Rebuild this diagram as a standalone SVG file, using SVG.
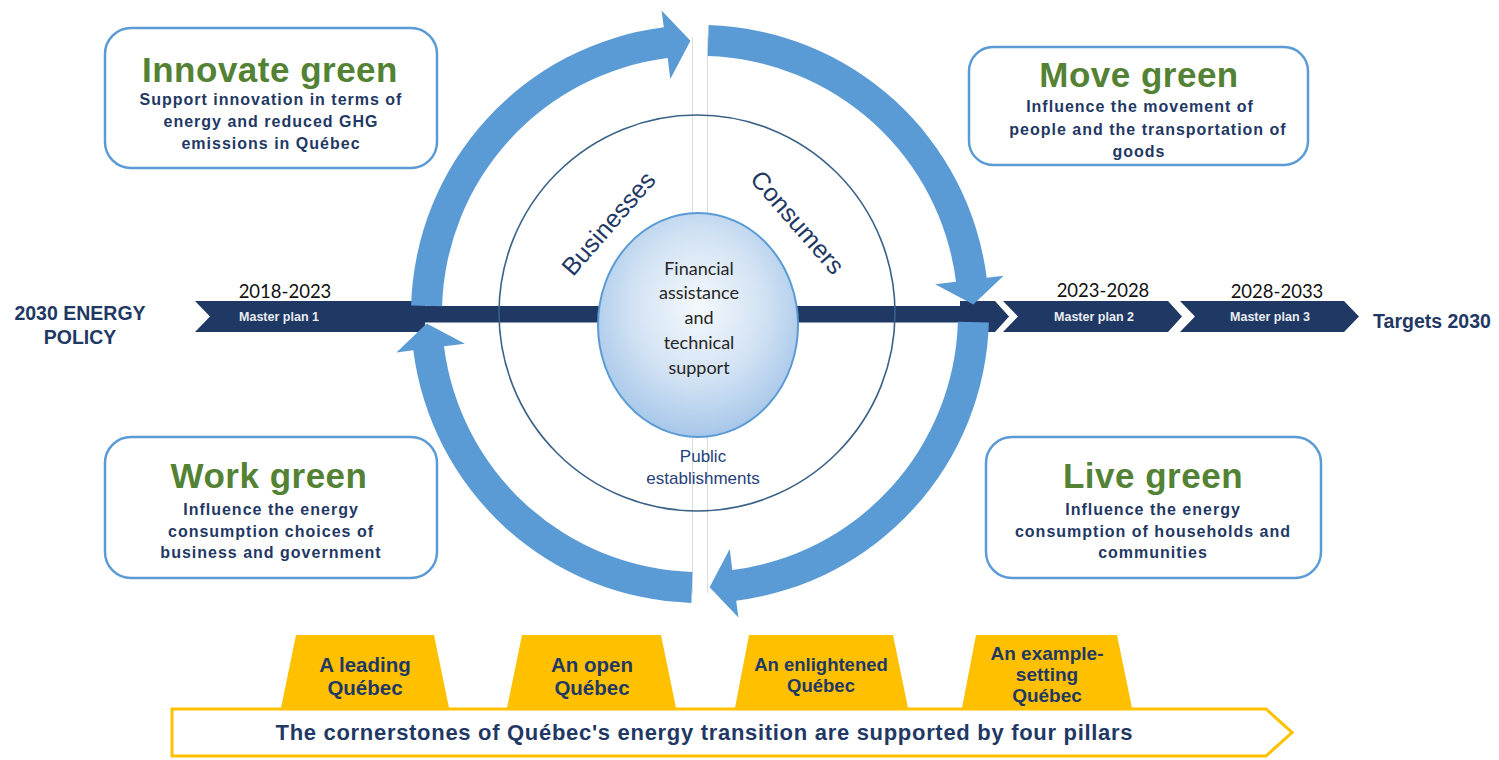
<svg xmlns="http://www.w3.org/2000/svg" width="1499" height="760" viewBox="0 0 1499 760">
<defs>
<radialGradient id="eg" cx="50%" cy="42%" r="58%">
<stop offset="0" stop-color="#f5f9fd"/>
<stop offset="0.55" stop-color="#d3e3f4"/>
<stop offset="1" stop-color="#a7c7e9"/>
</radialGradient>
<style>
.box{fill:#fff;stroke:#5b9bd5;stroke-width:2.5}
.title{font-family:"Liberation Sans",Arial,sans-serif;font-weight:bold;font-size:35px;fill:#548235;text-anchor:middle;letter-spacing:0.5px}
.sub{font-family:"Liberation Sans",Arial,sans-serif;font-weight:bold;font-size:16px;fill:#1f3864;text-anchor:middle;letter-spacing:1px}
.arc{fill:#5b9bd5}
.navy{fill:#1f3864}
.mp{font-family:"Liberation Sans",Arial,sans-serif;font-weight:bold;font-size:12.5px;fill:#e9ecf2;text-anchor:middle}
.yr{font-family:Lato,"Liberation Sans",sans-serif;font-size:18.5px;fill:#111;text-anchor:middle}
.lbl{font-family:"Liberation Sans",Arial,sans-serif;font-weight:bold;font-size:19.5px;fill:#1f3864;text-anchor:middle}
.ell{font-family:Lato,"Liberation Sans",sans-serif;font-size:18px;fill:#262626;text-anchor:middle}
.seg{font-family:"Liberation Sans",Arial,sans-serif;font-size:25px;fill:#1f3864;text-anchor:middle}
.pub{font-family:"Liberation Sans",Arial,sans-serif;font-size:17px;fill:#26407a;text-anchor:middle}
.pillar{fill:#ffc000}
.pt{font-family:"Liberation Sans",Arial,sans-serif;font-weight:bold;fill:#1f3864;text-anchor:middle}
.gap{stroke:#dcdcdc;stroke-width:1;fill:none}
</style>
</defs>
<rect width="1499" height="760" fill="#fff"/>

<g id="timeline">
<rect class="navy" x="420" y="306" width="560" height="16.5"/>
<polygon class="navy" points="195,301 425,301 425,332 195,332 210,316.5"/>
<polygon class="navy" points="960,301 995,301 1009,316.5 995,332 960,332"/>
<polygon class="navy" points="1003,301 1168,301 1182,316.5 1168,332 1003,332 1018,316.5"/>
<polygon class="navy" points="1180,301 1344,301 1359,316.5 1344,332 1180,332 1195,316.5"/>
<text class="mp" x="279" y="321">Master plan 1</text>
<text class="mp" x="1094" y="321">Master plan 2</text>
<text class="mp" x="1270" y="321">Master plan 3</text>
<text class="yr" x="285" y="298">2018-2023</text>
<text class="yr" x="1103" y="297">2023-2028</text>
<text class="yr" x="1277" y="298">2028-2033</text>
<text class="lbl" x="80" y="320">2030 ENERGY</text>
<text class="lbl" x="80" y="344">POLICY</text>
<text class="lbl" x="1432" y="328">Targets 2030</text>
</g>

<g id="center">
<line class="gap" x1="692.5" y1="37" x2="692.5" y2="305"/>
<line class="gap" x1="707.5" y1="37" x2="707.5" y2="305"/>
<line class="gap" x1="692.5" y1="323" x2="692.5" y2="593"/>
<line class="gap" x1="707.5" y1="323" x2="707.5" y2="593"/>
<circle cx="697" cy="313" r="198" fill="none" stroke="#3a6186" stroke-width="1.6"/>
<ellipse cx="698" cy="325" rx="100" ry="112" fill="url(#eg)" stroke="#5b9bd5" stroke-width="2"/>
<text class="ell" x="699" y="275">Financial</text>
<text class="ell" x="699" y="299">assistance</text>
<text class="ell" x="699" y="324">and</text>
<text class="ell" x="699" y="349">technical</text>
<text class="ell" x="699" y="374">support</text>
<text class="seg" transform="translate(615,229) rotate(-49)">Businesses</text>
<text class="seg" transform="translate(791,228) rotate(49)">Consumers</text>
<text class="pub" x="703" y="462">Public</text>
<text class="pub" x="703" y="484">establishments</text>
</g>

<g id="connectors">
<path class="arc" d="M411.1,305.4 A289,289 0 0 1 663.8,27.3 L661.6,10.4 L690.5,40.7 L670.3,78.9 L667.7,58.0 A258,258 0 0 0 442.1,306.3 Z"/>
<path class="arc" d="M708.6,25.1 A289,289 0 0 1 986.7,277.8 L1003.6,275.7 L973.3,304.5 L935.1,284.3 L956.0,281.7 A258,258 0 0 0 707.7,56.1 Z"/>
<path class="arc" d="M988.9,322.6 A289,289 0 0 1 736.2,600.7 L738.4,617.6 L709.6,587.3 L729.7,549.1 L732.3,570.0 A258,258 0 0 0 957.9,321.7 Z"/>
<path class="arc" d="M691.4,602.9 A289,289 0 0 1 413.3,350.2 L396.4,352.4 L426.7,323.6 L464.9,343.7 L444.0,346.3 A258,258 0 0 0 692.4,571.9 Z"/>
</g>

<g id="innovate-green">
<rect class="box" x="105" y="28" width="332" height="140" rx="26"/>
<text class="title" x="270" y="82">Innovate green</text>
<text class="sub" x="271" y="105">Support innovation in terms of</text>
<text class="sub" x="271" y="127">energy and reduced GHG</text>
<text class="sub" x="271" y="149">emissions in Québec</text>
</g>

<g id="move-green">
<rect class="box" x="969" y="47" width="339" height="118" rx="24"/>
<text class="title" x="1139" y="87">Move green</text>
<text class="sub" x="1140" y="112">Influence the movement of</text>
<text class="sub" x="1148" y="135">people and the transportation of</text>
<text class="sub" x="1139" y="157">goods</text>
</g>

<g id="work-green">
<rect class="box" x="105" y="437" width="332" height="141" rx="26"/>
<text class="title" x="269" y="488">Work green</text>
<text class="sub" x="271" y="515">Influence the energy</text>
<text class="sub" x="271" y="537">consumption choices of</text>
<text class="sub" x="271" y="558">business and government</text>
</g>

<g id="live-green">
<rect class="box" x="986" y="437" width="335" height="141" rx="26"/>
<text class="title" x="1153" y="488">Live green</text>
<text class="sub" x="1153" y="515">Influence the energy</text>
<text class="sub" x="1153" y="537">consumption of households and</text>
<text class="sub" x="1153" y="558">communities</text>
</g>

<g id="pillar-1">
<polygon class="pillar" points="296,635 434,635 449,708 281,708"/>
<text class="pt" x="365" y="672" font-size="20.5">A leading</text>
<text class="pt" x="365" y="695" font-size="20.5">Québec</text>
</g>
<g id="pillar-2">
<polygon class="pillar" points="522,635 661,635 676,708 507,708"/>
<text class="pt" x="592" y="672" font-size="20.5">An open</text>
<text class="pt" x="592" y="695" font-size="20.5">Québec</text>
</g>
<g id="pillar-3">
<polygon class="pillar" points="749,635 893,635 908,708 735,708"/>
<text class="pt" x="821" y="671" font-size="18.5">An enlightened</text>
<text class="pt" x="821" y="692" font-size="18.5">Québec</text>
</g>
<g id="pillar-4">
<polygon class="pillar" points="976,635 1117,635 1132,708 962,708"/>
<text class="pt" x="1047" y="660" font-size="19">An example-</text>
<text class="pt" x="1047" y="681" font-size="19">setting</text>
<text class="pt" x="1047" y="702" font-size="19">Québec</text>
</g>

<g id="banner">
<polygon points="172,709 1266,709 1292,732.5 1266,756 172,756" fill="#fff" stroke="#ffc000" stroke-width="3"/>
<text class="pt" x="704" y="740" font-size="22" textLength="857" lengthAdjust="spacing">The cornerstones of Québec's energy transition are supported by four pillars</text>
</g>
</svg>
